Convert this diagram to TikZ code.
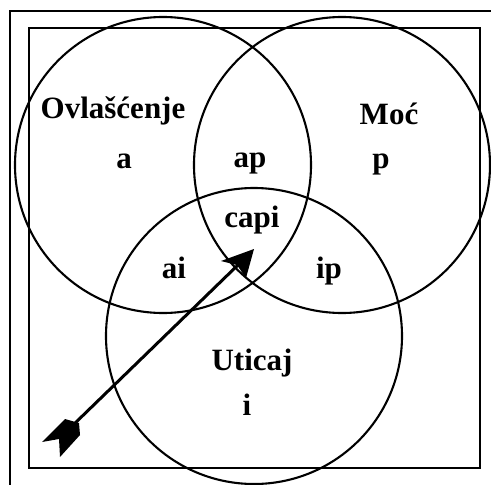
\documentclass[tikz,border=0pt]{standalone}
\usepackage{fontspec}
\setmainfont{Liberation Serif}
\begin{document}
\begin{tikzpicture}[x=1pt,y=-1pt,
  ring/.style={draw=black,line width=2.1pt},
  frame/.style={draw=black,line width=2.1pt},
  lbl/.style={anchor=base,inner sep=0pt,font=\fontsize{31}{31}\selectfont\bfseries}]
\useasboundingbox (0,0) rectangle (491,485);
\fill[white] (0,0) rectangle (491,485);
% outer frame (partly outside)
\draw[frame] (10,486) -- (10,11) -- (492,11);
% inner frame
\draw[frame] (29,28) rectangle (480,468);
% circles
\draw[ring] (163,165) circle (148);
\draw[ring] (342,165) circle (148);
\draw[ring] (254,336) circle (148);
% labels
\node[lbl] (ovl) at (113,118) {Ovlašćenje};
\node[lbl] (a) at (124,168) {a};
\node[lbl] (ap) at (250,167) {ap};
\node[lbl] (moc) at (389,124) {Moć};
\node[lbl] (p) at (381,168) {p};
\node[lbl] (capi) at (252,227) {capi};
\node[lbl] (ai) at (174,278) {ai};
\node[lbl] (ip) at (329,278) {ip};
\node[lbl] (uticaj) at (252,370) {Uticaj};
\node[lbl] (i) at (247,415) {i};
% arrow
\coordinate (tail) at (70,428);
\coordinate (tip) at (240,263);
\draw[line width=3pt] (tail) -- (tip);
\fill (254,249) -- (221,261) -- (237,265) -- (246,278) -- cycle;
\fill (65,419) -- (79,423) -- (80,435) -- (60,457) -- (59,439) -- (42,442) -- (56,428) -- cycle;
\end{tikzpicture}
\end{document}
